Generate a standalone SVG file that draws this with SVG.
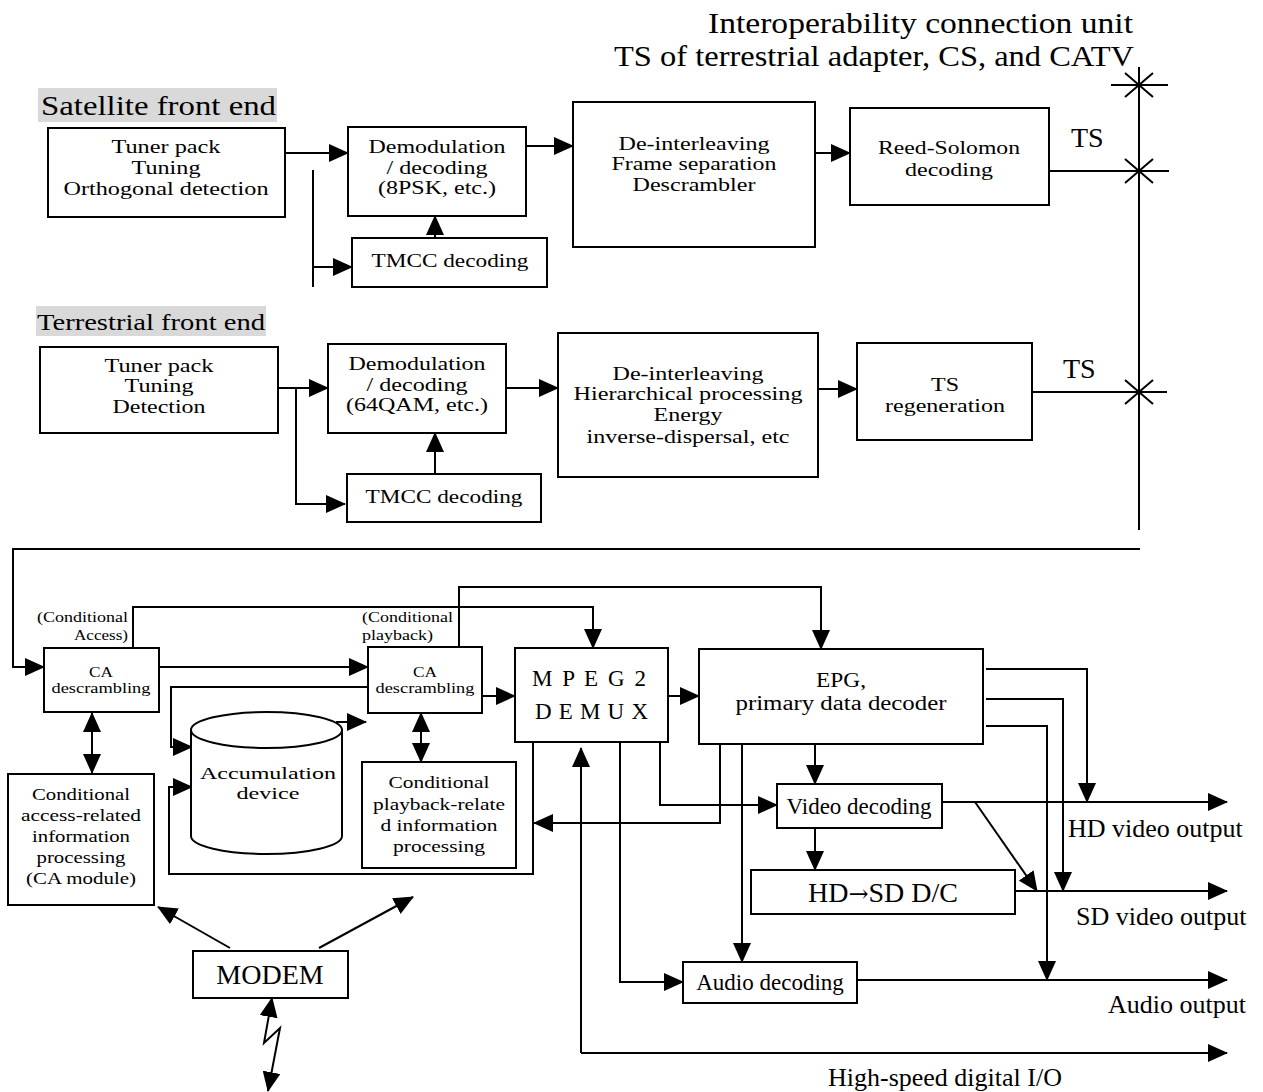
<svg xmlns="http://www.w3.org/2000/svg" width="1263" height="1092" viewBox="0 0 1263 1092">
<defs>
<marker id="ah" markerUnits="userSpaceOnUse" markerWidth="20" markerHeight="18" viewBox="0 0 20 18" refX="19" refY="9" orient="auto-start-reverse"><path d="M0,0 L20,9 L0,18 z" fill="#000"/></marker>
<style>
.box{fill:#fff;stroke:#000;stroke-width:2}
.lbl{fill:#d9d9d9;stroke:none}
.ln{fill:none;stroke:#000;stroke-width:2}
.a{marker-end:url(#ah)}
.d{marker-start:url(#ah);marker-end:url(#ah)}
text{font-family:"Liberation Serif","Times New Roman",serif;fill:#000}
.c{text-anchor:middle}
.b{font-size:18.5px}
.s{font-size:14px}
.p{font-size:15px}
.m{font-size:17.5px}
.e{font-size:20px}
.f23{font-size:23px}
.f26{font-size:26px}
.f28{font-size:28px}
.f30{font-size:30px}
.arw{font-family:"DejaVu Serif","DejaVu Sans",serif;font-size:24px}
</style>
</defs>
<rect width="1263" height="1092" fill="#fff"/>

<g id="header">
<text class="f30" x="708" y="33" textLength="425" lengthAdjust="spacingAndGlyphs">Interoperability connection unit</text>
<text class="f30" x="614" y="66" textLength="520" lengthAdjust="spacingAndGlyphs">TS of terrestrial adapter, CS, and CATV</text>
</g>

<g id="connectors">
<path class="ln a" d="M285,153 H348"/>
<path class="ln" d="M313,170 V287"/>
<path class="ln a" d="M313,267 H352"/>
<path class="ln a" d="M435,258 V216"/>
<path class="ln a" d="M526,146 H573"/>
<path class="ln a" d="M815,153 H850"/>
<path class="ln" d="M1049,171 H1169"/>
<path class="ln" d="M1139,67 V530"/>
<path class="ln" d="M1111,85 H1168 M1125,73 L1153,97 M1153,73 L1125,97"/>
<path class="ln" d="M1125,159 L1153,183 M1153,159 L1125,183"/>
<path class="ln" d="M1125,380 L1153,404 M1153,380 L1125,404"/>
<path class="ln a" d="M278,388 H328"/>
<path class="ln a" d="M296,388 V504 H345"/>
<path class="ln a" d="M435,474 V433"/>
<path class="ln a" d="M506,388 H558"/>
<path class="ln a" d="M818,389 H857"/>
<path class="ln" d="M1032,392 H1167"/>
<path class="ln a" d="M1140,549 H13 V667 H44"/>
<path class="ln a" d="M158,667 H368"/>
<path class="ln a" d="M133,647 V607 H593 V648"/>
<path class="ln a" d="M459,647 V587 H821 V649"/>
<path class="ln a" d="M482,696 H515"/>
<path class="ln d" d="M92,713 V773"/>
<path class="ln d" d="M421,713 V762"/>
<path class="ln a" d="M368,687 H171 V747 H192"/>
<path class="ln a" d="M336,722 H366"/>
<path class="ln a" d="M533,742 V874 H169 V787 H192"/>
<path class="ln a" d="M668,696 H699"/>
<path class="ln a" d="M620,742 V982 H683"/>
<path class="ln a" d="M660,742 V805 H777"/>
<path class="ln a" d="M720,744 V823 H534"/>
<path class="ln a" d="M742,744 V962"/>
<path class="ln a" d="M815,744 V784"/>
<path class="ln a" d="M815,828 V870"/>
<path class="ln a" d="M581,1053 V748"/>
<path class="ln a" d="M581,1053 H1227"/>
<path class="ln a" d="M942,802 H1227"/>
<path class="ln a" d="M975,802 L1037,891"/>
<path class="ln a" d="M1015,891 H1227"/>
<path class="ln a" d="M857,980 H1227"/>
<path class="ln a" d="M986,669 H1087 V802"/>
<path class="ln a" d="M986,699 H1063 V891"/>
<path class="ln a" d="M986,726 H1047 V980"/>
<path class="ln a" d="M230,948 L158,907"/>
<path class="ln a" d="M319,948 L413,897"/>
<path class="ln d" d="M272,998 L264,1043 L280,1028 L268,1091"/>
</g>

<g id="sat-label"><rect class="lbl" x="38" y="88" width="239" height="34"/><text class="f28" x="41" y="115" textLength="235" lengthAdjust="spacingAndGlyphs">Satellite front end</text></g>
<g id="sat-tuner"><rect class="box" x="48" y="128" width="237" height="89"/><text class="b c" x="166" y="153" textLength="109" lengthAdjust="spacingAndGlyphs">Tuner pack</text><text class="b c" x="166" y="174" textLength="69" lengthAdjust="spacingAndGlyphs">Tuning</text><text class="b c" x="166" y="195" textLength="205" lengthAdjust="spacingAndGlyphs">Orthogonal detection</text></g>
<g id="sat-demod"><rect class="box" x="348" y="127" width="178" height="89"/><text class="b c" x="437" y="153" textLength="137" lengthAdjust="spacingAndGlyphs">Demodulation</text><text class="b c" x="437" y="174" textLength="101" lengthAdjust="spacingAndGlyphs">/ decoding</text><text class="b c" x="437" y="194" textLength="118" lengthAdjust="spacingAndGlyphs">(8PSK, etc.)</text></g>
<g id="sat-tmcc"><rect class="box" x="352" y="238" width="195" height="49"/><text class="b c" x="450" y="267" textLength="157" lengthAdjust="spacingAndGlyphs">TMCC decoding</text></g>
<g id="sat-deint"><rect class="box" x="573" y="102" width="242" height="145"/><text class="b c" x="694" y="150" textLength="151" lengthAdjust="spacingAndGlyphs">De-interleaving</text><text class="b c" x="694" y="170" textLength="165" lengthAdjust="spacingAndGlyphs">Frame separation</text><text class="b c" x="694" y="191" textLength="123" lengthAdjust="spacingAndGlyphs">Descrambler</text></g>
<g id="sat-rs"><rect class="box" x="850" y="108" width="199" height="97"/><text class="b c" x="949" y="154" textLength="142" lengthAdjust="spacingAndGlyphs">Reed-Solomon</text><text class="b c" x="949" y="176" textLength="88" lengthAdjust="spacingAndGlyphs">decoding</text></g>
<g id="ts-label-1"><text class="f28" x="1071" y="147">TS</text></g>

<g id="terr-label"><rect class="lbl" x="36" y="306" width="230" height="30"/><text class="f23" x="37" y="330" textLength="228" lengthAdjust="spacingAndGlyphs">Terrestrial front end</text></g>
<g id="terr-tuner"><rect class="box" x="40" y="347" width="238" height="86"/><text class="b c" x="159" y="372" textLength="109" lengthAdjust="spacingAndGlyphs">Tuner pack</text><text class="b c" x="159" y="392" textLength="69" lengthAdjust="spacingAndGlyphs">Tuning</text><text class="b c" x="159" y="413" textLength="93" lengthAdjust="spacingAndGlyphs">Detection</text></g>
<g id="terr-demod"><rect class="box" x="328" y="344" width="178" height="89"/><text class="b c" x="417" y="370" textLength="137" lengthAdjust="spacingAndGlyphs">Demodulation</text><text class="b c" x="417" y="391" textLength="101" lengthAdjust="spacingAndGlyphs">/ decoding</text><text class="b c" x="417" y="411" textLength="142" lengthAdjust="spacingAndGlyphs">(64QAM, etc.)</text></g>
<g id="terr-tmcc"><rect class="box" x="347" y="474" width="194" height="48"/><text class="b c" x="444" y="503" textLength="157" lengthAdjust="spacingAndGlyphs">TMCC decoding</text></g>
<g id="terr-deint"><rect class="box" x="558" y="333" width="260" height="144"/><text class="b c" x="688" y="380" textLength="151" lengthAdjust="spacingAndGlyphs">De-interleaving</text><text class="b c" x="688" y="400" textLength="229" lengthAdjust="spacingAndGlyphs">Hierarchical processing</text><text class="b c" x="688" y="421" textLength="69" lengthAdjust="spacingAndGlyphs">Energy</text><text class="b c" x="688" y="443" textLength="203" lengthAdjust="spacingAndGlyphs">inverse-dispersal, etc</text></g>
<g id="terr-tsregen"><rect class="box" x="857" y="343" width="175" height="97"/><text class="b c" x="945" y="391" textLength="28" lengthAdjust="spacingAndGlyphs">TS</text><text class="b c" x="945" y="412" textLength="120" lengthAdjust="spacingAndGlyphs">regeneration</text></g>
<g id="ts-label-2"><text class="f28" x="1063" y="378">TS</text></g>

<g id="ca-desc-1"><rect class="box" x="44" y="648" width="115" height="64"/><text class="s c" x="101" y="677" textLength="24" lengthAdjust="spacingAndGlyphs">CA</text><text class="s c" x="101" y="693" textLength="99" lengthAdjust="spacingAndGlyphs">descrambling</text></g>
<g id="ca-label-1"><text class="p" x="128" y="622" text-anchor="end" textLength="91" lengthAdjust="spacingAndGlyphs">(Conditional</text><text class="p" x="128" y="640" text-anchor="end" textLength="54" lengthAdjust="spacingAndGlyphs">Access)</text></g>
<g id="ca-desc-2"><rect class="box" x="368" y="647" width="114" height="66"/><text class="s c" x="425" y="677" textLength="24" lengthAdjust="spacingAndGlyphs">CA</text><text class="s c" x="425" y="693" textLength="99" lengthAdjust="spacingAndGlyphs">descrambling</text></g>
<g id="ca-label-2"><text class="p" x="362" y="622" textLength="91" lengthAdjust="spacingAndGlyphs">(Conditional</text><text class="p" x="362" y="640" textLength="71" lengthAdjust="spacingAndGlyphs">playback)</text></g>
<g id="ca-module"><rect class="box" x="8" y="774" width="146" height="131"/><text class="m c" x="81" y="800" textLength="98" lengthAdjust="spacingAndGlyphs">Conditional</text><text class="m c" x="81" y="821" textLength="120" lengthAdjust="spacingAndGlyphs">access-related</text><text class="m c" x="81" y="842" textLength="98" lengthAdjust="spacingAndGlyphs">information</text><text class="m c" x="81" y="863" textLength="89" lengthAdjust="spacingAndGlyphs">processing</text><text class="m c" x="81" y="884" textLength="110" lengthAdjust="spacingAndGlyphs">(CA module)</text></g>
<g id="accumulation"><path class="box" d="M191,730 V836 A75.5,18 0 0 0 342,836 V730"/><ellipse class="box" cx="266.5" cy="730" rx="75.5" ry="18"/><text class="m c" x="268" y="779" textLength="136" lengthAdjust="spacingAndGlyphs">Accumulation</text><text class="m c" x="268" y="799" textLength="63" lengthAdjust="spacingAndGlyphs">device</text></g>
<g id="cp-info"><rect class="box" x="362" y="762" width="154" height="106"/><text class="m c" x="439" y="788" textLength="101" lengthAdjust="spacingAndGlyphs">Conditional</text><text class="m c" x="439" y="810" textLength="132" lengthAdjust="spacingAndGlyphs">playback-relate</text><text class="m c" x="439" y="831" textLength="117" lengthAdjust="spacingAndGlyphs">d information</text><text class="m c" x="439" y="852" textLength="92" lengthAdjust="spacingAndGlyphs">processing</text></g>
<g id="demux"><rect class="box" x="515" y="648" width="153" height="94"/><text class="f23" x="532" y="686" textLength="114" lengthAdjust="spacing">M P E G 2</text><text class="f23" x="535" y="719" textLength="113" lengthAdjust="spacing">D E M U X</text></g>
<g id="epg"><rect class="box" x="699" y="649" width="284" height="95"/><text class="e c" x="841" y="687" textLength="50" lengthAdjust="spacingAndGlyphs">EPG,</text><text class="e c" x="841" y="710" textLength="211" lengthAdjust="spacingAndGlyphs">primary data decoder</text></g>
<g id="video-dec"><rect class="box" x="777" y="784" width="165" height="44"/><text class="f23 c" x="859" y="814">Video decoding</text></g>
<g id="hdsd"><rect class="box" x="751" y="870" width="264" height="44"/><text class="f28 c" x="883" y="902">HD<tspan class="arw">→</tspan>SD D/C</text></g>
<g id="audio-dec"><rect class="box" x="683" y="962" width="174" height="41"/><text class="f23 c" x="770" y="990">Audio decoding</text></g>
<g id="modem"><rect class="box" x="193" y="951" width="155" height="47"/><text class="f28 c" x="270" y="984">MODEM</text></g>

<g id="outputs">
<text class="f26" x="1068" y="837">HD video output</text>
<text class="f26" x="1076" y="925">SD video output</text>
<text class="f26" x="1108" y="1013">Audio output</text>
<text class="f26" x="828" y="1086">High-speed digital I/O</text>
</g>
</svg>
